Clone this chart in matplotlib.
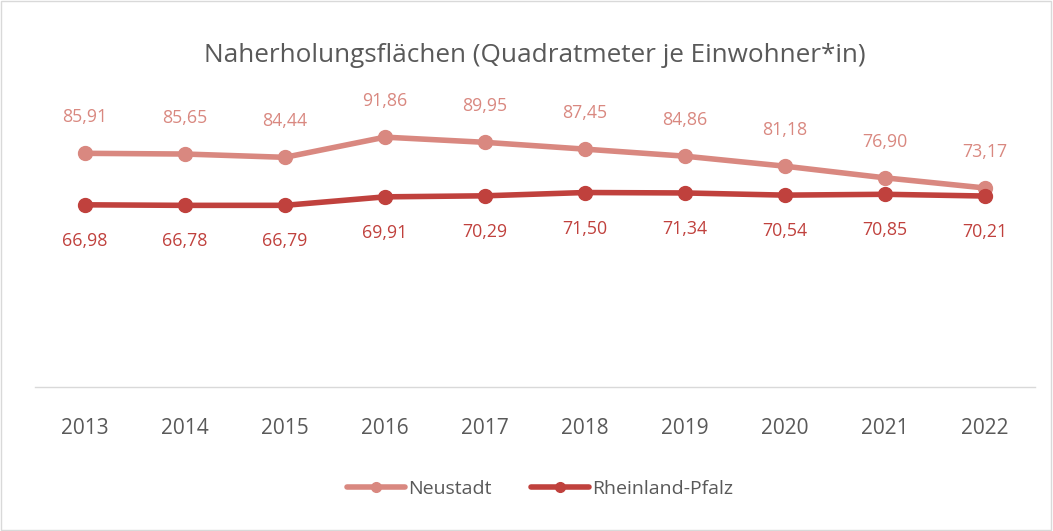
import matplotlib
matplotlib.use("Agg")
import matplotlib.pyplot as plt
from matplotlib.patches import Rectangle

years = ["2013", "2014", "2015", "2016", "2017", "2018", "2019", "2020", "2021", "2022"]
neustadt = [85.91, 85.65, 84.44, 91.86, 89.95, 87.45, 84.86, 81.18, 76.90, 73.17]
rlp = [66.98, 66.78, 66.79, 69.91, 70.29, 71.50, 71.34, 70.54, 70.85, 70.21]

c_light = "#D98880"
c_dark = "#C0413D"
txt = "#595959"

plt.rcParams['font.family'] = ['Open Sans', 'DejaVu Sans']

fig = plt.figure(figsize=(10.53, 5.31), dpi=100)
fig.patches.append(Rectangle((0.0005, 0.001), 0.998, 0.997, transform=fig.transFigure,
                             fill=False, edgecolor="#D9D9D9", linewidth=1))
ax = fig.add_axes([35/1053, (531-387)/531, 1000/1053, 272/531])

x = list(range(len(years)))
ax.plot(x, neustadt, color=c_light, lw=4, marker="o", ms=10, solid_capstyle="round", label="Neustadt", zorder=3)
ax.plot(x, rlp, color=c_dark, lw=4, marker="o", ms=10, solid_capstyle="round", label="Rheinland-Pfalz", zorder=3)

for i, v in enumerate(neustadt):
    ax.annotate(f"{v:.2f}".replace(".", ","), (i, v), xytext=(0, 26), textcoords="offset points",
                ha="center", va="center", color=c_light, fontsize=12.8)
for i, v in enumerate(rlp):
    ax.annotate(f"{v:.2f}".replace(".", ","), (i, v), xytext=(0, -26), textcoords="offset points",
                ha="center", va="center", color=c_dark, fontsize=12.8)

ax.set_xlim(-0.5, len(years) - 0.5)
ax.set_ylim(0, 100)
ax.set_xticks(x)
ax.set_xticklabels(years, fontsize=15, color=txt)
ax.tick_params(axis="x", length=0, pad=22)
ax.set_yticks([])
for s in ["top", "right", "left"]:
    ax.spines[s].set_visible(False)
ax.spines["bottom"].set_color("#D9D9D9")
ax.spines["bottom"].set_linewidth(1)

fig.text(535/1053, 1 - 56/531, "Naherholungsflächen (Quadratmeter je Einwohner*in)",
         ha="center", va="center", fontsize=18.8, color=txt)

leg = fig.legend(loc="center", bbox_to_anchor=(540/1053, 1 - 489/531), ncol=2, frameon=False,
                 fontsize=14, handlelength=3.0, handletextpad=0.15, columnspacing=2.0,
                 markerscale=0.7, labelcolor=txt)

fig.savefig("out.png", dpi=100)
